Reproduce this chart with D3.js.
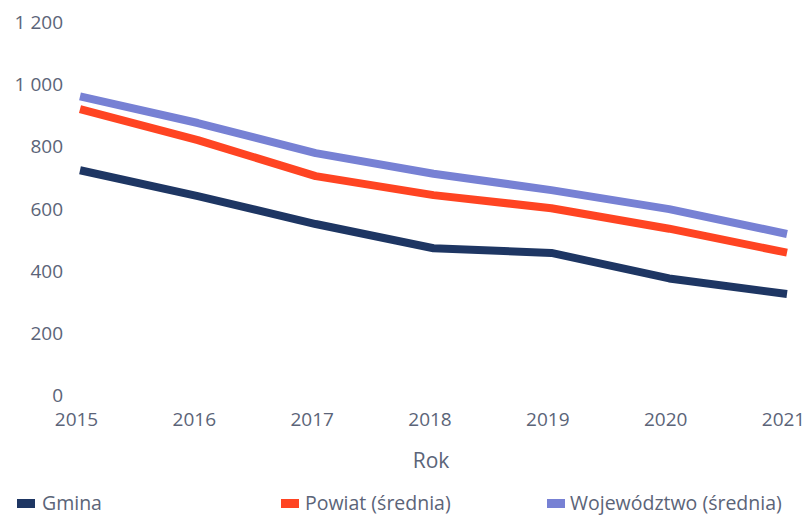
<!DOCTYPE html>
<html><head><meta charset="utf-8">
<script src="https://cdn.jsdelivr.net/npm/d3@7"></script>
<style>body{margin:0;background:#fff}svg{display:block}text{font-family:"Open Sans","Noto Sans",sans-serif;fill:#5b6478}</style>
</head><body><svg width="808" height="517"></svg>
<script>
const years = ["2015","2016","2017","2018","2019","2020","2021"];
const gmina = [723, 640, 550, 472, 457, 375, 325];
const powiat = [920, 820, 704, 643, 601, 535, 458];
const wojewodztwo = [961, 875, 778, 712, 659, 598, 518];
const yTicks = [0, 200, 400, 600, 800, 1000, 1200];
const seriesNames = ["Gmina", "Powiat (średnia)", "Województwo (średnia)"];
const colors = ["#1e3663", "#ff4422", "#7781d4"];

const svg = d3.select("svg");
const x = d3.scalePoint().domain(years).range([80, 787]);
const y = d3.scaleLinear().domain([0, 1200]).range([395, 22]);
const fmt = v => d3.format(",")(v).replace(/,/g, " ");

svg.append("g").attr("transform","translate(63,0)")
  .call(d3.axisLeft(y).tickValues(yTicks).tickSize(0).tickPadding(0).tickFormat(fmt))
  .call(g => g.select(".domain").remove())
  .selectAll("text").style("font-size","19px").attr("dy","0.35em");

svg.append("g").attr("transform","translate(-4,419)")
  .call(d3.axisBottom(x).tickSize(0).tickPadding(0))
  .call(g => g.select(".domain").remove())
  .selectAll("text").style("font-size","19px").attr("dy","0.35em");

svg.append("text").attr("x",431).attr("y",461).attr("text-anchor","middle")
  .attr("dy","0.35em").style("font-size","21px").text("Rok");

const data = [gmina, powiat, wojewodztwo];
const line = d3.line().x((d,i)=>x(years[i])).y(d=>y(d));
[2,1,0].forEach(k=>{
  svg.append("path").attr("d", line(data[k])).attr("fill","none")
    .attr("stroke", colors[k]).attr("stroke-width", 8).attr("stroke-linejoin","round");
});

const legX = [17, 281, 547];
const legTX = [42, 305, 570];
seriesNames.forEach((n,i)=>{
  svg.append("rect").attr("x",legX[i]).attr("y",499).attr("width",18).attr("height",9).attr("fill",colors[i]);
  svg.append("text").attr("x",legTX[i]).attr("y",503).attr("dy","0.35em").style("font-size","19.5px").text(n);
});
</script></body></html>
